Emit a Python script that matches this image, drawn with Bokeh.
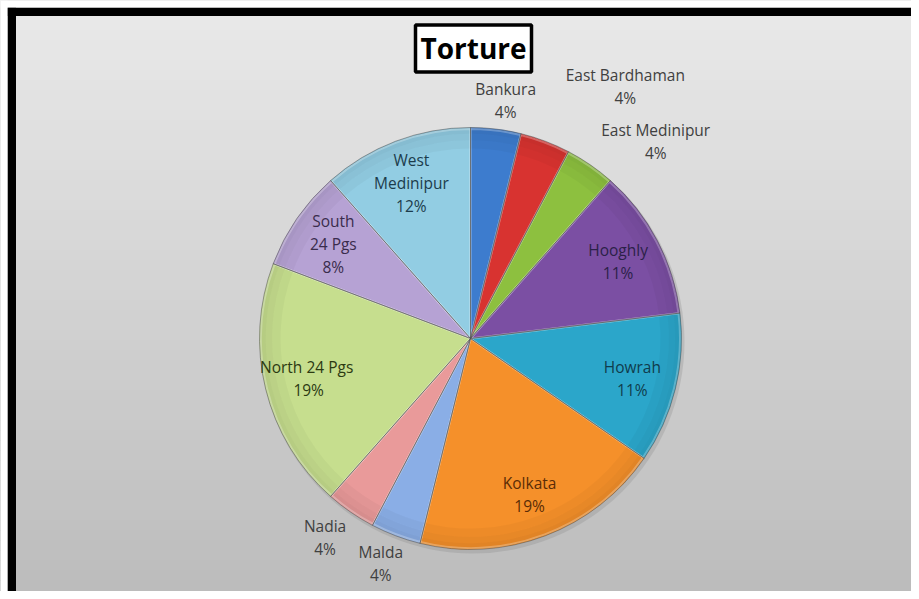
import numpy as np
from bokeh.plotting import figure
from bokeh.models import Range1d, ColumnDataSource
from bokeh.core.properties import value
from bokeh.embed import file_html
from bokeh.resources import INLINE

# ---- data ----
districts = ["Bankura", "East Bardhaman", "East Medinipur", "Hooghly", "Howrah",
             "Kolkata", "Malda", "Nadia", "North  24 Pgs", "South 24 Pgs", "West Medinipur"]
name_lines = [["Bankura"], ["East Bardhaman"], ["East Medinipur"], ["Hooghly"], ["Howrah"],
              ["Kolkata"], ["Malda"], ["Nadia"], ["North  24 Pgs"], ["South", "24 Pgs"],
              ["West", "Medinipur"]]
counts = [1, 1, 1, 3, 3, 5, 1, 1, 5, 2, 3]
pct_labels = ["4%", "4%", "4%", "11%", "11%", "19%", "4%", "4%", "19%", "8%", "12%"]
title_text = "Torture"

# ---- styles ----
colors = ["#3d7cce", "#d83330", "#8dc03f", "#7b4fa3", "#2ba6ca", "#f5902a",
          "#8aaee6", "#e99a9a", "#c6de8e", "#b6a2d4", "#92cde3"]
text_colors = ["#404040", "#404040", "#404040", "#2b2148", "#103c4c", "#5a2c06",
               "#404040", "#404040", "#2c3a12", "#3a2c4c", "#1c3c4c"]
# label placement for slices labelled outside: (clockwise angle deg, radius factor)
outside = {0: (8.4, 1.14), 1: (31.6, 1.40), 2: (43.3, 1.28), 6: (201.7, 1.15), 7: (216.1, 1.17)}
inside_factor = 0.79
FONT = "Open Sans"

W, H = 911, 591


def X(sx):
    return sx


def Y(sy):
    return H - sy


p = figure(width=W, height=H, x_range=Range1d(0, W), y_range=Range1d(0, H),
           output_backend="svg", toolbar_location=None, min_border=0,
           x_axis_location=None, y_axis_location=None)
p.grid.visible = False
p.outline_line_color = None
p.background_fill_color = "#d4d4d4"
p.border_fill_color = "#d4d4d4"

# background gradient
nb = 60
edges = np.linspace(0, 600, nb + 1)
c0 = np.array([234, 234, 234])
c1 = np.array([188, 188, 188])
bcols = []
for i in range(nb):
    t = i / (nb - 1)
    c = (c0 * (1 - t) + c1 * t).astype(int)
    bcols.append("#%02x%02x%02x" % tuple(c))
p.quad(left=0, right=W, top=[Y(e) for e in edges[:-1]], bottom=[Y(e) for e in edges[1:]],
       fill_color=bcols, line_color=bcols)

# frame border
p.quad(left=X(7), right=W, top=Y(7), bottom=Y(15.5), fill_color="black", line_color=None)
p.quad(left=X(7), right=X(15.5), top=Y(7), bottom=Y(599), fill_color="black", line_color=None)
p.quad(left=0, right=X(7), top=H, bottom=0, fill_color="white", line_color=None)
p.quad(left=0, right=W, top=H, bottom=Y(7), fill_color="white", line_color=None)

# pie
cx, cy, r = X(470), Y(338), 211
vals = np.array(counts, dtype=float)
frac = vals / vals.sum()
cum_end = np.cumsum(frac) * 360.0
cum_start = cum_end - frac * 360.0
start_math = np.deg2rad(90 - cum_end)
end_math = np.deg2rad(90 - cum_start)

# soft shadow
p.circle(x=[cx + 2], y=[cy - 3], radius=r + 1, fill_color="#808080", fill_alpha=0.25, line_color=None)

src = ColumnDataSource(dict(start=start_math, end=end_math, color=colors, name=districts))
p.wedge(x=cx, y=cy, radius=r, start_angle="start", end_angle="end", fill_color="color",
        line_color=None, source=src)
# subtle bevel shading toward the rim
for k, (a, b) in enumerate([(0.90, 0.94), (0.94, 0.97), (0.97, 1.0)]):
    p.annular_wedge(x=cx, y=cy, inner_radius=r * a, outer_radius=r * b, start_angle="start",
                    end_angle="end", fill_color="black", fill_alpha=0.03 + 0.025 * k,
                    line_color=None, source=src)
p.wedge(x=cx, y=cy, radius=r - 1.5, start_angle="start", end_angle="end", fill_color=None,
        line_color="white", line_alpha=0.25, line_width=2, source=src)
p.wedge(x=cx, y=cy, radius=r, start_angle="start", end_angle="end", fill_color=None,
        line_color="#505050", line_alpha=0.5, line_width=1, source=src)

# labels
tx, ty, tt, tc = [], [], [], []
lh = 23
for i, name in enumerate(districts):
    mid = (cum_start[i] + cum_end[i]) / 2
    if i in outside:
        ang, fct = outside[i]
    else:
        ang, fct = mid, inside_factor
    lx = cx + r * fct * np.sin(np.deg2rad(ang))
    ly = cy + r * fct * np.cos(np.deg2rad(ang))
    lines = name_lines[i] + [pct_labels[i]]
    n = len(lines)
    for k, line in enumerate(lines):
        tx.append(lx)
        ty.append(ly + (n - 1) / 2 * lh - k * lh)
        tt.append(line)
        tc.append(text_colors[i])
p.text(x=tx, y=ty, text=tt, text_color=tc, text_font=value(FONT), text_font_size="15.5px",
       text_align="center", text_baseline="middle")

# title box
p.rect(x=[X(473)], y=[Y(48)], width=116, height=47, fill_color="white", line_color="black",
       line_width=3.5)
p.text(x=[X(473)], y=[Y(47)], text=[title_text], text_font=value(FONT), text_font_style="bold",
       text_font_size="28px", text_color="black", text_align="center", text_baseline="middle")

open("out.html", "w").write(file_html(p, INLINE))
